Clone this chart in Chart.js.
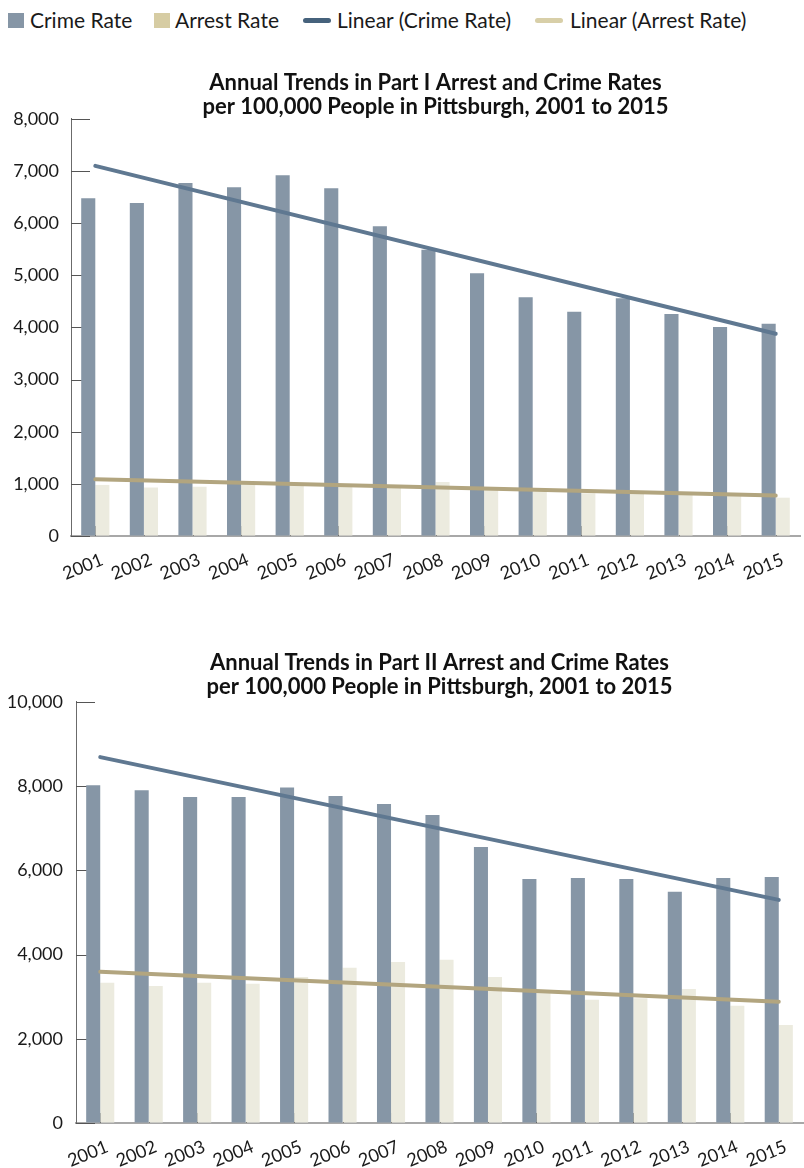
<!DOCTYPE html>
<html>
<head>
<meta charset="utf-8">
<script src="https://cdn.jsdelivr.net/npm/chart.js@4/dist/chart.umd.min.js"></script>
<style>
  body { margin: 0; background: #fff; }
  #page { position: relative; width: 804px; height: 1168px; font-family: Lato, sans-serif; color: #1a1a1a; }
  #legend .item { position: absolute; top: 6px; font-size: 21px; line-height: 28px; white-space: nowrap; }
  #legend .swatch { position: absolute; }
  canvas { position: absolute; left: 0; }
</style>
</head>
<body>
<div id="page">
  <div id="legend">
    <span class="swatch" style="left:8px;top:13px;width:16px;height:15px;background:#8696a6"></span>
    <span class="item" style="left:30px">Crime Rate</span>
    <span class="swatch" style="left:154px;top:13px;width:16px;height:15px;background:#d6cca3"></span>
    <span class="item" style="left:175px">Arrest Rate</span>
    <span class="swatch" style="left:303px;top:18px;width:28px;height:5px;border-radius:3px;background:#46627c"></span>
    <span class="item" style="left:337px">Linear (Crime Rate)</span>
    <span class="swatch" style="left:535px;top:18px;width:28px;height:5px;border-radius:3px;background:#d8cfa8"></span>
    <span class="item" style="left:570px">Linear (Arrest Rate)</span>
  </div>
  <canvas id="partOne" width="804" height="560" style="top:40px"></canvas>
  <canvas id="partTwo" width="804" height="568" style="top:600px"></canvas>
</div>
<script>
const years = ['2001', '2002', '2003', '2004', '2005', '2006', '2007', '2008',
  '2009', '2010', '2011', '2012', '2013', '2014', '2015']

// Part I offences, rate per 100,000
const partOneCrime = [6480, 6390, 6770, 6690, 6920, 6670, 5940, 5490, 5040, 4580, 4300, 4560, 4260, 4010, 4070]
const partOneArrest = [980, 930, 945, 1000, 985, 950, 920, 1035, 885, 855, 820, 810, 790, 785, 735]
const partOneCrimeTrend = [7100, null, null, null, null, null, null, null, null, null, null, null, null, null, 3880]
const partOneArrestTrend = [1090, null, null, null, null, null, null, null, null, null, null, null, null, null, 775]

// Part II offences, rate per 100,000
const partTwoCrime = [8020, 7905, 7740, 7740, 7970, 7765, 7575, 7315, 6555, 5795, 5820, 5795, 5490, 5820, 5845]
const partTwoArrest = [3330, 3255, 3330, 3305, 3470, 3685, 3825, 3875, 3470, 3100, 2925, 2965, 3185, 2785, 2330]
const partTwoCrimeTrend = [8690, null, null, null, null, null, null, null, null, null, null, null, null, null, 5300]
const partTwoArrestTrend = [3590, null, null, null, null, null, null, null, null, null, null, null, null, null, 2880]

const crimeColor = '#8696a6'
const arrestColor = '#ecebdf'
const crimeTrendColor = '#5f7891'
const arrestTrendColor = '#b2a57f'

Chart.defaults.animation = false
Chart.defaults.font.family = 'Lato, sans-serif'
Chart.defaults.color = '#1a1a1a'

// tick marks that point into the plot, drawn underneath the bars
const innerTicks = {
    id: 'innerTicks',
    beforeDatasetsDraw(chart) {
        const { ctx, chartArea, scales: { x, y } } = chart
        ctx.save()
        ctx.lineWidth = 1
        ctx.strokeStyle = '#555'
        y.ticks.forEach(t => {
            const py = Math.round(y.getPixelForValue(t.value)) + 0.5
            ctx.beginPath()
            ctx.moveTo(chartArea.left, py)
            ctx.lineTo(chartArea.left + 19, py)
            ctx.stroke()
        })
        ctx.strokeStyle = '#222'
        x.ticks.forEach((t, i) => {
            const px = Math.round(x.getPixelForValue(i)) + 0.5
            ctx.beginPath()
            ctx.moveTo(px, chartArea.bottom)
            ctx.lineTo(px, chartArea.bottom - 10)
            ctx.stroke()
        })
        ctx.restore()
    }
}

function trendDataset(label, data, color) {
    return {
        type: 'line',
        label: label,
        data: data,
        spanGaps: true,
        borderColor: color,
        borderWidth: 4,
        borderCapStyle: 'round',
        pointRadius: 0,
        order: 0,
    }
}

function makeChart(canvasId, opts) {
    return new Chart(document.getElementById(canvasId), {
        type: 'bar',
        data: {
            labels: years,
            datasets: [
                trendDataset('Linear (Crime Rate)', opts.crimeTrend, crimeTrendColor),
                trendDataset('Linear (Arrest Rate)', opts.arrestTrend, arrestTrendColor),
                { label: 'Crime Rate', data: opts.crime, backgroundColor: crimeColor, order: 1 },
                { label: 'Arrest Rate', data: opts.arrest, backgroundColor: arrestColor, order: 1 },
            ],
        },
        options: {
            responsive: false,
            categoryPercentage: 0.58,
            barPercentage: 1,
            layout: { padding: { left: 0, right: opts.rightPad, top: 0, bottom: 0 } },
            plugins: {
                legend: { display: false },
                tooltip: { enabled: false },
                title: {
                    display: true,
                    fullSize: false,
                    text: opts.title,
                    color: '#111',
                    font: { size: 22, weight: 'bold', lineHeight: 1.09 },
                    padding: { top: opts.titleTop, bottom: opts.titleBottom },
                },
            },
            scales: {
                x: {
                    grid: { drawOnChartArea: false, drawTicks: false },
                    border: { color: '#a8a8a8', width: 2 },
                    ticks: {
                        minRotation: 22,
                        maxRotation: 22,
                        padding: opts.xPad,
                        labelOffset: 7,
                        font: { size: 18 },
                        color: '#1a1a1a',
                    },
                    afterFit: (scale) => { scale.height = opts.xHeight },
                },
                y: {
                    min: 0,
                    max: opts.max,
                    grid: { drawOnChartArea: false, drawTicks: false },
                    border: { color: '#6b6b6b', width: 1 },
                    ticks: {
                        stepSize: opts.step,
                        padding: opts.yPad,
                        font: { size: 18 },
                        color: '#1a1a1a',
                    },
                    afterFit: (scale) => { scale.width = opts.yWidth },
                },
            },
        },
        plugins: [innerTicks],
    })
}

makeChart('partOne', {
    title: ['Annual Trends in Part I Arrest and Crime Rates', 'per 100,000 People in Pittsburgh, 2001 to 2015'],
    crime: partOneCrime,
    arrest: partOneArrest,
    crimeTrend: partOneCrimeTrend,
    arrestTrend: partOneArrestTrend,
    max: 8000,
    step: 1000,
    yWidth: 71,
    yPad: 12,
    xHeight: 64,
    xPad: 13,
    rightPad: 4,
    titleTop: 31,
    titleBottom: 0,
})

makeChart('partTwo', {
    title: ['Annual Trends in Part II Arrest and Crime Rates', 'per 100,000 People in Pittsburgh, 2001 to 2015'],
    crime: partTwoCrime,
    arrest: partTwoArrest,
    crimeTrend: partTwoCrimeTrend,
    arrestTrend: partTwoArrestTrend,
    max: 10000,
    step: 2000,
    yWidth: 76,
    yPad: 13,
    xHeight: 45,
    xPad: 13,
    rightPad: 1,
    titleTop: 51,
    titleBottom: 3,
})
</script>
</body>
</html>
